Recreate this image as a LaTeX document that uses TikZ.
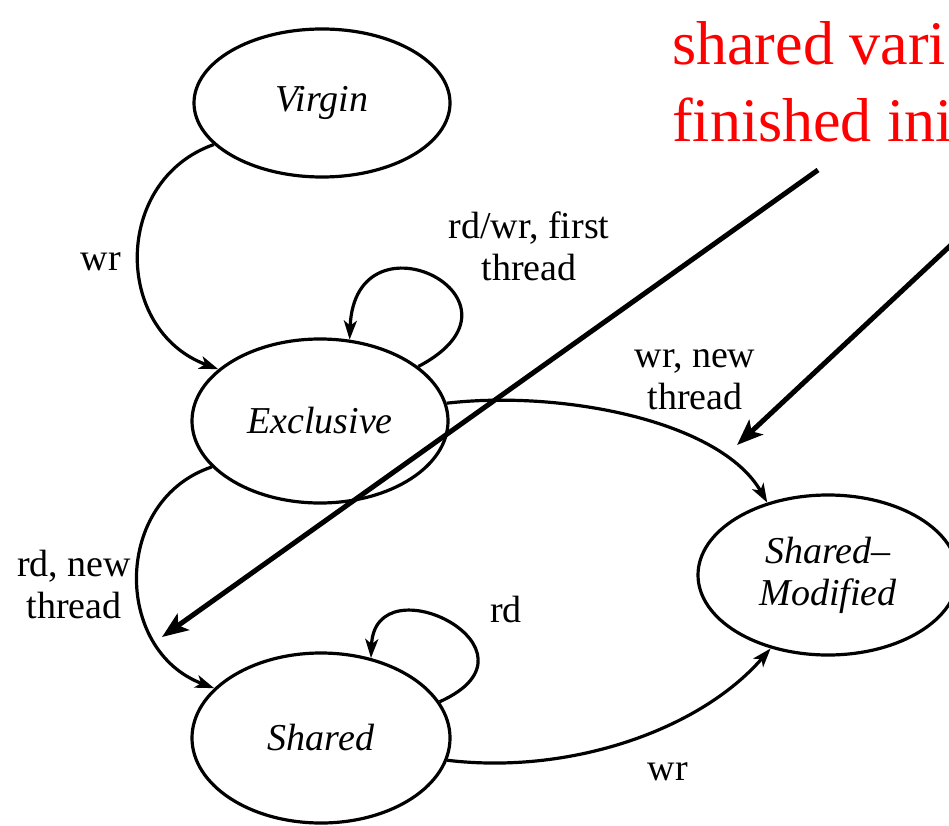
\documentclass[tikz,border=0pt]{standalone}
\usepackage{fontspec}
\setmainfont{Liberation Serif}
\usetikzlibrary{arrows.meta,shapes.geometric}
\begin{document}
\begin{tikzpicture}[x=1pt,y=-1pt,
  state/.style={ellipse,draw,line width=3.2pt,inner sep=0pt,font=\fontsize{38}{42}\selectfont\itshape,align=center},
  lbl/.style={font=\fontsize{38}{42}\selectfont,align=center,inner sep=0pt},
  note/.style={font=\fontsize{62}{77}\selectfont,text=red,inner sep=0pt,anchor=base west},
  edge/.style={line width=3.2pt,-{Stealth[length=19pt,width=13pt,inset=5pt]}},
  big/.style={line width=5pt,-{Stealth[length=26pt,width=20pt,inset=6pt]}},
]
\useasboundingbox (0,0) rectangle (949,826);
\clip (0,0) rectangle (949,826);
\fill[white] (0,0) rectangle (949,826);

% states
\node[state,minimum width=256pt,minimum height=148pt] (v) at (322,103) {Virgin};
\node[state,minimum width=256pt,minimum height=164pt] (e) at (320,421) {Exclusive};
\node[state,minimum width=258pt,minimum height=170pt] (s) at (321,738) {Shared};
\node[state,minimum width=260pt,minimum height=160pt] (m) at (828,575) {Shared–\\Modified};

% transitions
\draw[edge] (v.201) .. controls (113,180) and (113,330) .. (e.153);
\draw[edge] (e.29) .. controls (545,300) and (355,205) .. (e.70);
\draw[edge] (e.8) .. controls (560,390) and (720,420) .. (m.130);
\draw[edge] (e.203) .. controls (113,500) and (113,650) .. (s.155);
\draw[edge] (s.17) .. controls (555,650) and (375,560) .. (s.58);
\draw[edge] (s.350) .. controls (570,775) and (700,730) .. (m.232);

% labels
\node[lbl,anchor=base] (l1) at (101,270) {wr};
\node[lbl] (l2) at (529,246) {rd/wr, first\\thread};
\node[lbl] (l3) at (695,380) {wr, new\\thread};
\node[lbl] (l4) at (74,584) {rd, new\\thread};
\node[lbl,anchor=base] (l5) at (506,622) {rd};
\node[lbl,anchor=base] (l6) at (668,780) {wr};

% red annotation
\node[note] (n1) at (672,65) {shared vari};
\node[note] (n2) at (672,142) {finished ini};

\coordinate (a1s) at (818,170);
\coordinate (a1e) at (162,637);
\coordinate (a2s) at (951,245);
\coordinate (a2e) at (737,445);
\draw[big] (a1s) -- (a1e);
\draw[big] (a2s) -- (a2e);
\end{tikzpicture}
\end{document}
